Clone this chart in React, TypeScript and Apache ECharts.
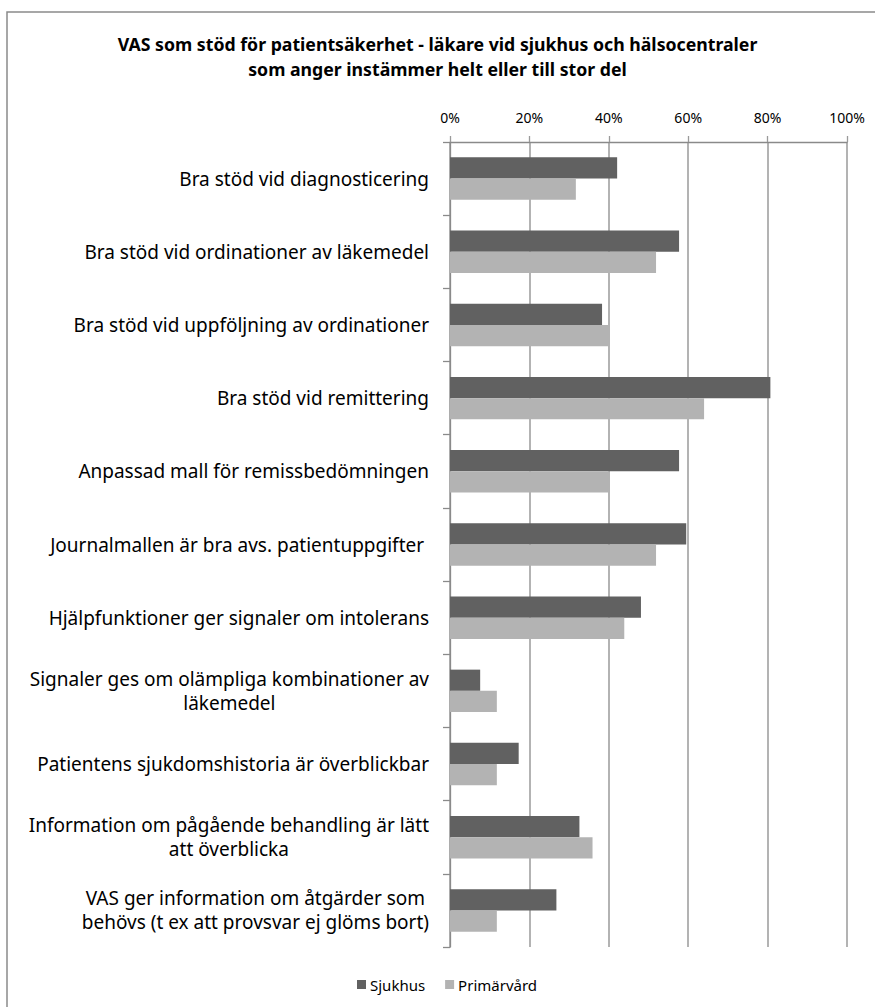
import React, { useEffect, useRef } from "react";
import * as echarts from "echarts";

const categories: string[] = [
  "Bra stöd vid diagnosticering",
  "Bra stöd vid ordinationer av läkemedel",
  "Bra stöd vid uppföljning av ordinationer",
  "Bra stöd vid remittering",
  "Anpassad mall för remissbedömningen",
  "Journalmallen är bra avs. patientuppgifter ",
  "Hjälpfunktioner ger signaler om intolerans",
  "Signaler ges om olämpliga kombinationer av\nläkemedel",
  "Patientens sjukdomshistoria är överblickbar",
  "Information om pågående behandling är lätt\natt överblicka",
  "VAS ger information om åtgärder som\nbehövs (t ex att provsvar ej glöms bort)",
];

const sjukhus: number[] = [42.1, 57.7, 38.3, 80.7, 57.7, 59.5, 48.1, 7.6, 17.3, 32.6, 26.8];
const primarvard: number[] = [31.7, 51.9, 40.1, 64.0, 40.0, 51.9, 43.9, 11.8, 11.8, 35.9, 11.8];

const seriesNames: string[] = ["Sjukhus", "Primärvård"];
const titleText = "VAS som stöd för patientsäkerhet - läkare vid sjukhus och hälsocentraler\nsom anger instämmer helt eller till stor del";

const FONT = "'Noto Sans', Lato, sans-serif";

export default function App() {
  const ref = useRef<HTMLDivElement>(null);
  useEffect(() => {
    if (!ref.current) return;
    const chart = echarts.init(ref.current, undefined, { renderer: "svg" });
    chart.setOption({
      animation: false,
      backgroundColor: "#ffffff",
      textStyle: { fontFamily: FONT },
      graphic: [
        {
          type: "rect",
          shape: { x: 7, y: 12, width: 900, height: 1100 },
          style: { fill: "none", stroke: "#8a8a8a", lineWidth: 1.5 },
          silent: true,
        },
      ],
      title: {
        text: titleText,
        left: "center",
        top: 26,
        textStyle: {
          fontFamily: FONT,
          fontSize: 17.7,
          fontWeight: "bold",
          color: "#000",
          lineHeight: 25,
        },
      },
      legend: {
        data: seriesNames,
        left: 357,
        top: 977,
        padding: 0,
        itemWidth: 9,
        itemHeight: 9,
        itemGap: 20,
        icon: "rect",
        textStyle: { fontFamily: FONT, fontSize: 15, color: "#000", padding: [0, 0, 0, -1] },
      },
      grid: {
        left: 450,
        right: 28,
        top: 142,
        bottom: 60,
        containLabel: false,
      },
      xAxis: {
        type: "value",
        position: "top",
        min: 0,
        max: 100,
        interval: 20,
        axisLine: { show: true, lineStyle: { color: "#8a8a8a", width: 1.3 } },
        axisTick: { show: true, inside: false, length: 6, lineStyle: { color: "#9a9a9a", width: 1.3 } },
        axisLabel: {
          formatter: "{value}%",
          fontFamily: FONT,
          fontSize: 14,
          color: "#000",
          margin: 18,
        },
        splitLine: { show: true, lineStyle: { color: "#9a9a9a", width: 1.5 } },
      },
      yAxis: {
        type: "category",
        inverse: true,
        data: categories,
        axisLine: { show: true, lineStyle: { color: "#8a8a8a", width: 1.3 } },
        axisTick: { show: true, inside: false, length: 7, lineStyle: { color: "#8a8a8a", width: 1.3 } },
        axisLabel: {
          margin: 21,
          color: "#000",
          fontFamily: FONT,
          fontSize: 19,
          formatter: (v: string) =>
            v
              .split("\n")
              .map((l) => "{c|" + l + "}")
              .join("\n"),
          rich: {
            c: {
              align: "center",
              fontFamily: FONT,
              fontSize: 19,
              color: "#000",
              lineHeight: 24,
            },
          },
        },
        splitLine: { show: false },
      },
      series: [
        {
          name: seriesNames[0],
          type: "bar",
          data: sjukhus,
          barGap: "0%",
          barCategoryGap: "42%",
          itemStyle: { color: "#616161" },
        },
        {
          name: seriesNames[1],
          type: "bar",
          data: primarvard,
          barGap: "0%",
          barCategoryGap: "42%",
          itemStyle: { color: "#b3b3b3" },
        },
      ],
    });
    return () => chart.dispose();
  }, []);
  return (
    <div
      ref={ref}
      style={{ position: "absolute", left: 0, top: 0, width: 875, height: 1007 }}
    />
  );
}
